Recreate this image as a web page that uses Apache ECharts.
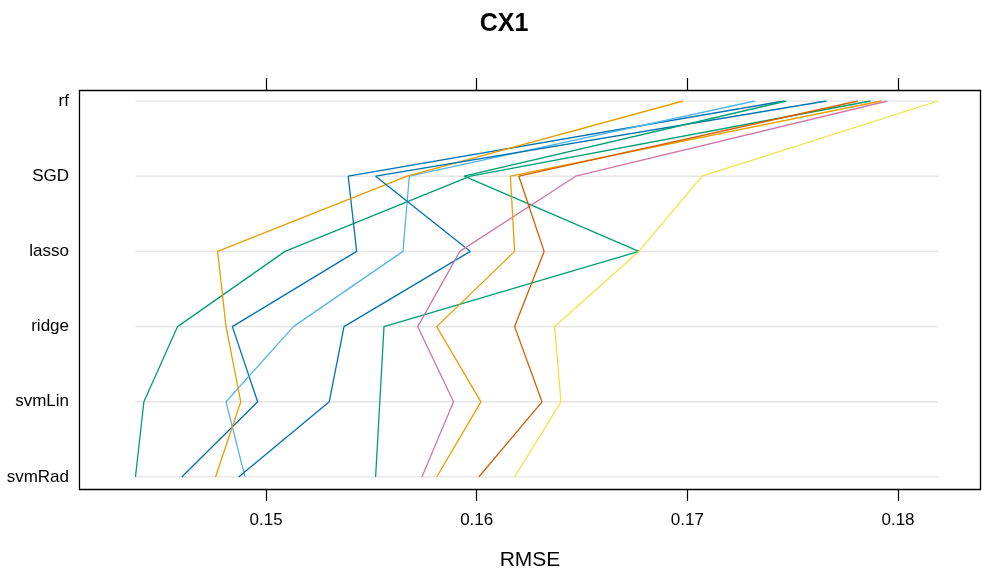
<!DOCTYPE html>
<html>
<head>
    <meta charset="utf-8">
    <script src="https://cdn.jsdelivr.net/npm/echarts@6/dist/echarts.min.js"></script>
    <style type="text/css">
        body { margin: 0; }
        #main { width: 982px; height: 576px; }
    </style>
</head>
<body>
    <div id="main"></div>
    <script>
        // models, top to bottom
        const models = ['rf', 'SGD', 'lasso', 'ridge', 'svmLin', 'svmRad'];
        const tickValues = [0.15, 0.16, 0.17, 0.18];

        // RMSE per resample, same order as models
        const foldOrangeA = [0.1698, 0.1567, 0.1477, 0.1481, 0.1488, 0.1476];
        const foldSky     = [0.1732, 0.1568, 0.1565, 0.1513, 0.1481, 0.1490];
        const foldBlueA   = [0.1746, 0.1539, 0.1543, 0.1484, 0.1496, 0.1460];
        const foldBlueB   = [0.1766, 0.1552, 0.1597, 0.1537, 0.1530, 0.1487];
        const foldGreenA  = [0.1787, 0.1597, 0.1509, 0.1458, 0.1442, 0.1438];
        const foldGreenB  = [0.1747, 0.1594, 0.1677, 0.1556, 0.1554, 0.1552];
        const foldPink    = [0.1795, 0.1647, 0.1592, 0.1572, 0.1589, 0.1574];
        const foldOrangeB = [0.1792, 0.1616, 0.1618, 0.1581, 0.1602, 0.1581];
        const foldVerm    = [0.1781, 0.1620, 0.1632, 0.1618, 0.1631, 0.1601];
        const foldYellow  = [0.1819, 0.1707, 0.1677, 0.1637, 0.1640, 0.1618];

        const folds = [
            {vals: foldGreenA, color: '#009E73'},
            {vals: foldBlueA, color: '#0072B2'},
            {vals: foldSky, color: '#56B4E9'},
            {vals: foldOrangeA, color: '#E69F00'},
            {vals: foldBlueB, color: '#0072B2'},
            {vals: foldGreenB, color: '#009E73'},
            {vals: foldPink, color: '#CC79A7'},
            {vals: foldOrangeB, color: '#E69F00'},
            {vals: foldVerm, color: '#D55E00'},
            {vals: foldYellow, color: '#F0E442'}
        ];

        const font = '"Liberation Sans", Arial, sans-serif';
        const all = folds.flatMap(f => f.vals);
        const lo = Math.min(...all), hi = Math.max(...all);

        // light reference lines spanning the data range
        const refLines = models.map(m => ({
            type: 'line', silent: true, symbol: 'none', z: 1,
            data: [[lo, m], [hi, m]],
            lineStyle: {color: '#e4e4e4', width: 1.5}
        }));

        const foldLines = folds.map(f => ({
            type: 'line', silent: true, symbol: 'none', z: 2,
            data: models.map((m, i) => [f.vals[i], m]),
            lineStyle: {color: f.color, width: 1.3}
        }));

        const xCommon = {
            type: 'value', min: 0.14112, max: 0.18394,
            splitLine: {show: false},
            axisLine: {show: false},
            axisTick: {show: true, inside: false, length: 12, customValues: tickValues,
                lineStyle: {color: '#000', width: 1.2}}
        };

        const myChart = echarts.init(document.getElementById('main'));
        myChart.setOption({
            animation: false,
            title: {
                text: 'CX1', left: 499, top: 7, textAlign: 'center',
                textStyle: {fontFamily: font, fontSize: 25, fontWeight: 'bold', color: '#000'}
            },
            grid: {left: 79, right: 1, top: 101, bottom: 98},
            xAxis: [
                Object.assign({}, xCommon, {
                    position: 'bottom', offset: 12,
                    name: 'RMSE', nameLocation: 'middle', nameGap: 61,
                    nameTextStyle: {fontFamily: font, fontSize: 21, color: '#000'},
                    axisLabel: {customValues: tickValues, margin: 23, fontFamily: font, fontSize: 17, color: '#000'}
                }),
                Object.assign({}, xCommon, {
                    position: 'top', offset: 11,
                    axisLabel: {show: false}
                })
            ],
            yAxis: {
                type: 'category', data: models, inverse: true, boundaryGap: false,
                axisLine: {show: false},
                axisTick: {show: false},
                splitLine: {show: false},
                axisLabel: {margin: 10, fontFamily: font, fontSize: 17, color: '#000'}
            },
            graphic: [{
                type: 'rect', z: 100, silent: true,
                shape: {x: 79.5, y: 90.5, width: 901, height: 399},
                style: {fill: 'none', stroke: '#000', lineWidth: 1.3}
            }],
            series: refLines.concat(foldLines)
        });
    </script>
</body>
</html>
